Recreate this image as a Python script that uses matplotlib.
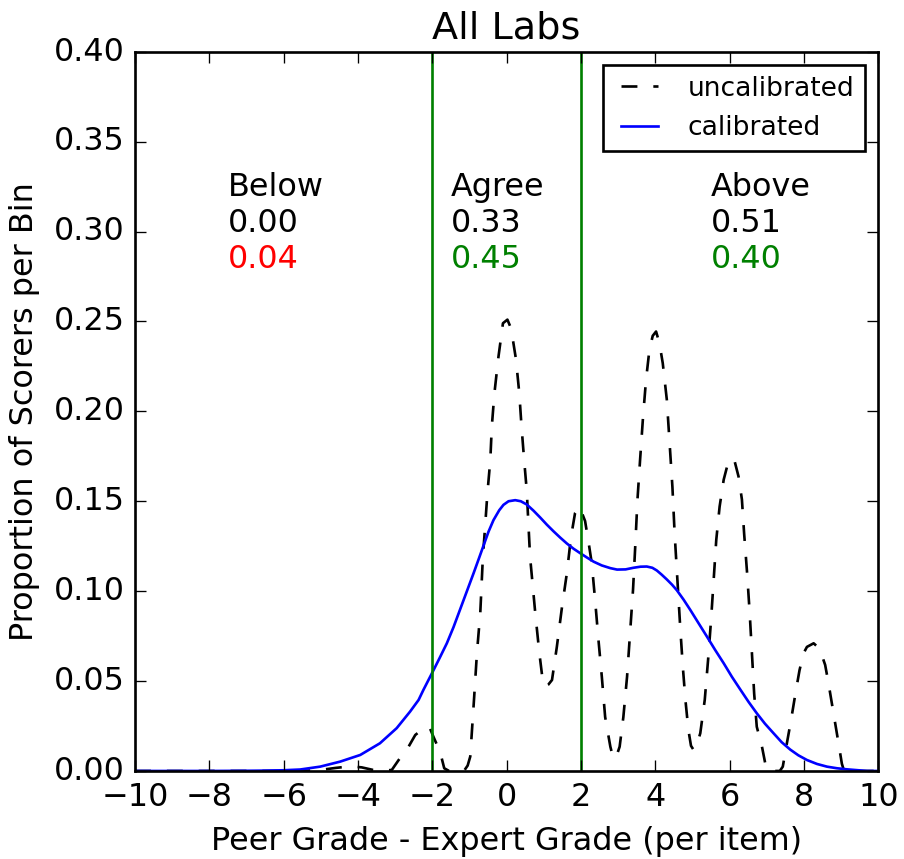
import matplotlib
matplotlib.use("Agg")
import matplotlib.pyplot as plt

# ---- data ----
x_unc = [-10, -6, -5.5, -5.0, -4.6, -4.2, -3.9, -3.6, -3.3, -3.09, -2.91, -2.64, -2.46, -2.25,
         -2.08, -1.97, -1.79, -1.68, -1.55, -1.15, -1.05, -0.98, -0.875, -0.80, -0.71, -0.64,
         -0.58, -0.52, -0.44, -0.40, -0.33, -0.22, -0.10, 0.02, 0.12, 0.25, 0.34, 0.40, 0.47,
         0.54, 0.63, 0.77, 0.88, 0.96, 1.04, 1.12, 1.22, 1.35, 1.49, 1.62, 1.73, 1.84, 1.96,
         2.11, 2.22, 2.29, 2.38, 2.47, 2.56, 2.65, 2.79, 2.87, 2.95, 3.04, 3.14, 3.24, 3.32,
         3.40, 3.46, 3.52, 3.59, 3.67, 3.75, 3.84, 3.93, 4.02, 4.11, 4.20, 4.31, 4.38, 4.46,
         4.52, 4.60, 4.67, 4.74, 4.81, 4.89, 4.96, 5.03, 5.11, 5.21, 5.33, 5.42, 5.50, 5.57,
         5.64, 5.73, 5.84, 5.94, 6.03, 6.12, 6.24, 6.33, 6.39, 6.47, 6.54, 6.60, 6.66, 6.73,
         6.87, 6.96, 7.05, 7.35, 7.43, 7.54, 7.65, 7.77, 7.88, 7.99, 8.08, 8.17, 8.26, 8.42,
         8.57, 8.66, 8.75, 8.84, 8.93, 9.02, 9.08, 10]
y_unc = [0, 0, 0.0, 0.0006, 0.0017, 0.0026, 0.0020, 0.0006, 0.0001, 0.0006, 0.006, 0.0135, 0.020, 0.0235,
         0.0245, 0.019, 0.0105, 0.0015, 0.0, 0.0, 0.003, 0.008, 0.041, 0.0656, 0.088, 0.119,
         0.136, 0.154, 0.173, 0.1915, 0.210, 0.2305, 0.249, 0.251, 0.246, 0.229, 0.210, 0.1915, 0.173,
         0.156, 0.119, 0.0877, 0.0655, 0.052, 0.047, 0.048, 0.0506, 0.069, 0.0914, 0.110, 0.130, 0.1434, 0.147,
         0.139, 0.125, 0.1155, 0.095, 0.0729, 0.0525, 0.030, 0.0135, 0.007, 0.008, 0.0135, 0.030, 0.0525, 0.0766,
         0.1007, 0.125, 0.151, 0.173, 0.197, 0.2175, 0.234, 0.242, 0.2444, 0.238, 0.2268, 0.2064, 0.184, 0.158,
         0.132, 0.104, 0.080, 0.058, 0.0395, 0.0228, 0.014, 0.0117, 0.014, 0.021, 0.0395, 0.0618, 0.084, 0.106,
         0.1285, 0.147, 0.162, 0.170, 0.1735, 0.1734, 0.1637, 0.151, 0.132, 0.110, 0.0877, 0.0655, 0.043, 0.0246,
         0.0135, 0.004, 0.0, 0.0, 0.0024, 0.0154, 0.028, 0.043, 0.056, 0.0655, 0.069, 0.070, 0.071, 0.068,
         0.059, 0.0488, 0.0377, 0.0265, 0.0154, 0.004, 0.0, 0]

x_cal = [-10, -8, -7, -6.5, -6, -5.56, -5.02, -4.48, -3.94, -3.41, -2.96, -2.60, -2.37, -2.24,
         -1.97, -1.80, -1.61, -1.43, -1.25, -1.07, -0.89, -0.75, -0.62, -0.49, -0.355, -0.2, -0.086,
         0.05, 0.23, 0.38, 0.54, 0.72, 0.90, 1.08, 1.26, 1.44, 1.62, 1.80, 1.98, 2.16, 2.34, 2.56,
         2.79, 2.97, 3.2, 3.41, 3.6, 3.77, 3.92, 4.04, 4.17, 4.31, 4.45, 4.58, 4.76, 4.94, 5.16,
         5.39, 5.61, 5.84, 6.06, 6.29, 6.51, 6.73, 6.95, 7.18, 7.40, 7.63, 7.85, 8.08, 8.35, 8.62,
         8.89, 9.16, 9.7, 10]
y_cal = [0, 0, 0.0001, 0.0002, 0.0004, 0.0008, 0.0024, 0.0052, 0.0089, 0.0154, 0.0238, 0.033, 0.0395, 0.0451,
         0.0560, 0.0630, 0.0710, 0.0800, 0.0900, 0.1000, 0.1100, 0.1180, 0.1255, 0.1330, 0.1395, 0.1450, 0.1480,
         0.1500, 0.1506, 0.1500, 0.1482, 0.1448, 0.1410, 0.1370, 0.1333, 0.1298, 0.1265, 0.1236, 0.1211, 0.1187, 0.1164, 0.1143,
         0.1128, 0.1120, 0.1121, 0.1130, 0.1136, 0.1137, 0.1130, 0.1115, 0.1092, 0.1065, 0.1036, 0.1005, 0.0953, 0.0896, 0.0823,
         0.0747, 0.0673, 0.0599, 0.0524, 0.0452, 0.0384, 0.0321, 0.0263, 0.0210, 0.0160, 0.0119, 0.0087, 0.0061, 0.0039, 0.0024,
         0.0015, 0.0009, 0.0, 0]

bounds = [-2, 2]
region_names = ["Below", "Agree", "Above"]
region_x = [-7.5, -1.5, 5.5]
uncal_vals = ["0.00", "0.33", "0.51"]
cal_vals = ["0.04", "0.45", "0.40"]
cal_colors = ["r", "g", "g"]

xticks = [-10, -8, -6, -4, -2, 0, 2, 4, 6, 8, 10]
yticks = [0.00, 0.05, 0.10, 0.15, 0.20, 0.25, 0.30, 0.35, 0.40]

# ---- plot ----
plt.style.use("classic")
DPI = 191
fig = plt.figure(figsize=(904.3 / DPI, 859.3 / DPI), dpi=DPI, facecolor="white")
ax = fig.add_axes([135 / 904, 1 - 771 / 859, (878 - 135) / 904, (771 - 52) / 859])

ax.plot(x_unc, y_unc, "k--", lw=1.0, label="uncalibrated")
ax.plot(x_cal, y_cal, "b-", lw=1.0, label="calibrated")
for b in bounds:
    ax.axvline(b, color="g", lw=1.0)

for nm, xx, uv, cv, cc in zip(region_names, region_x, uncal_vals, cal_vals, cal_colors):
    ax.text(xx, 0.32, nm, fontsize=12, color="k", va="baseline", ha="left")
    ax.text(xx, 0.30, uv, fontsize=12, color="k", va="baseline", ha="left")
    ax.text(xx, 0.28, cv, fontsize=12, color=cc, va="baseline", ha="left")

ax.set_xlim(-10, 10)
ax.set_ylim(0, 0.40)
ax.set_xticks(xticks)
ax.set_yticks(yticks)
ax.set_yticklabels(["%.2f" % v for v in yticks])
ax.tick_params(labelsize=12)
ax.set_title("All Labs", fontsize=14.4)
ax.set_xlabel("Peer Grade - Expert Grade (per item)", fontsize=12)
ax.set_ylabel("Proportion of Scorers per Bin", fontsize=12)
ax.legend(loc="upper right", fontsize=10, handlelength=2.0, numpoints=2)

fig.savefig("out.png", dpi=DPI, facecolor="white")
